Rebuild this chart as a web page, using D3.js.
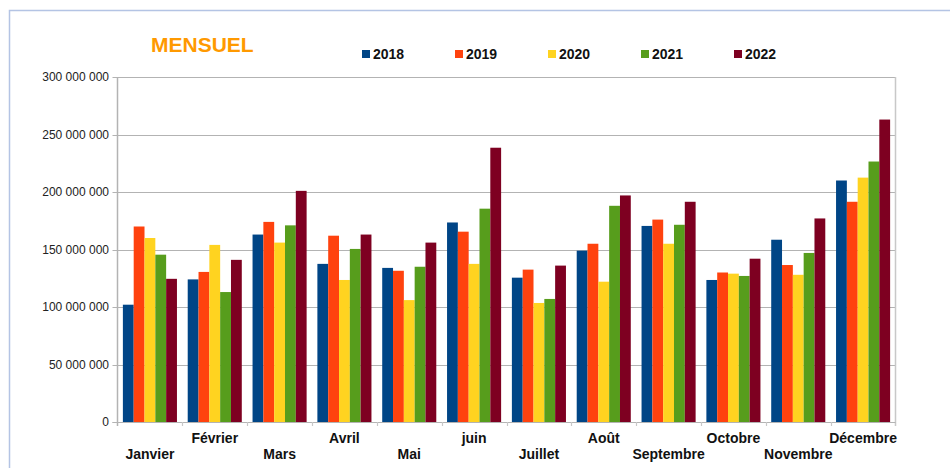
<!DOCTYPE html>
<html>
<head>
<meta charset="utf-8">
<script src="https://cdn.jsdelivr.net/npm/d3@7"></script>
<style>
  body { margin: 0; background: #fff; }
  svg { display: block; font-family: "Liberation Sans", Arial, sans-serif; }
</style>
</head>
<body>
<div class="chart"></div>
<script>
// chart data
var months = ["Janvier", "Février", "Mars", "Avril", "Mai", "juin",
  "Juillet", "Août", "Septembre", "Octobre", "Novembre", "Décembre"];
var years = ["2018", "2019", "2020", "2021", "2022"];
var colors = ["#004586", "#ff420e", "#ffd320", "#579d1c", "#7e0021"];
var yTicks = [0, 50000000, 100000000, 150000000, 200000000, 250000000, 300000000];

// values in millions
var v2018 = [102, 124, 163, 137.5, 134, 173.5, 125.5, 149, 170.5, 123.5, 158.5, 210];
var v2019 = [170, 130.5, 174, 162, 131.5, 165.5, 132.5, 155, 176, 130, 136.5, 191.5];
var v2020 = [160, 154, 156, 123.5, 106, 137.5, 103.5, 122, 155, 129, 128, 212.5];
var v2021 = [145.5, 113, 171, 150.5, 135, 185.5, 107, 188, 171.5, 127, 147, 226.5];
var v2022 = [124.5, 141, 201, 163, 156, 238.5, 136, 197, 191.5, 142, 177, 263];
var series = [v2018, v2019, v2020, v2021, v2022];

var svgWidth = 950;
var svgHeight = 468;

var plot = { left: 117.5, right: 895.5, top: 77, bottom: 422 };

var svg = d3.select(".chart")
  .append("svg")
  .attr("width", svgWidth)
  .attr("height", svgHeight);

// outer frame (light blue, only top and left are visible)
svg.append("path")
  .attr("d", "M9.5,468 V10.5 H950")
  .attr("fill", "none")
  .attr("stroke", "#b4c4e4")
  .attr("stroke-width", 1.5);

// scales
var x0 = d3.scaleBand()
  .domain(months)
  .range([plot.left, plot.right])
  .padding(0);

var bw = x0.bandwidth();
var gap = bw * 0.083;
var x1 = d3.scaleBand()
  .domain(years)
  .range([gap, bw - gap])
  .padding(0);

var y = d3.scaleLinear()
  .domain([0, 300000000])
  .range([plot.bottom, plot.top]);

// gridlines
svg.append("g")
  .selectAll("line")
  .data(yTicks)
  .enter()
  .append("line")
  .attr("x1", plot.left - 5)
  .attr("x2", plot.right)
  .attr("y1", d => Math.round(y(d)) + 0.5)
  .attr("y2", d => Math.round(y(d)) + 0.5)
  .attr("stroke", "#b3b3b3")
  .attr("stroke-width", 1.2);

// y tick labels
svg.append("g")
  .selectAll("text")
  .data(yTicks)
  .enter()
  .append("text")
  .attr("x", 109)
  .attr("y", d => y(d) + 4)
  .attr("text-anchor", "end")
  .attr("font-size", 12)
  .attr("fill", "#222")
  .text(d => d3.format(",")(d).replace(/,/g, " "));

// bars
var groups = svg.append("g")
  .selectAll("g")
  .data(months)
  .enter()
  .append("g")
  .attr("transform", d => `translate(${x0(d)},0)`);

groups.selectAll("rect")
  .data((m, i) => years.map((yr, j) => ({ year: yr, idx: j, value: series[j][i] * 1000000 })))
  .enter()
  .append("rect")
  .attr("x", d => x1(d.year))
  .attr("width", x1.bandwidth())
  .attr("y", d => y(d.value))
  .attr("height", d => y(0) - y(d.value))
  .attr("fill", d => colors[d.idx]);

// axes lines
svg.append("line")
  .attr("x1", plot.left).attr("x2", plot.left)
  .attr("y1", plot.top).attr("y2", plot.bottom + 4)
  .attr("stroke", "#b3b3b3").attr("stroke-width", 1.5);
svg.append("line")
  .attr("x1", plot.right).attr("x2", plot.right)
  .attr("y1", plot.top).attr("y2", plot.bottom + 4)
  .attr("stroke", "#c8c8c8").attr("stroke-width", 1.5);
svg.append("line")
  .attr("x1", plot.left - 5).attr("x2", plot.right)
  .attr("y1", plot.bottom + 0.5).attr("y2", plot.bottom + 0.5)
  .attr("stroke", "#b3b3b3").attr("stroke-width", 1.2);

// x tick marks at category boundaries
svg.append("g")
  .selectAll("line")
  .data(months.slice(1))
  .enter()
  .append("line")
  .attr("x1", d => Math.round(x0(d)) + 0.5)
  .attr("x2", d => Math.round(x0(d)) + 0.5)
  .attr("y1", plot.bottom)
  .attr("y2", plot.bottom + 4)
  .attr("stroke", "#c8c8c8")
  .attr("stroke-width", 1.2);

// x labels, staggered on two rows
svg.append("g")
  .selectAll("text")
  .data(months)
  .enter()
  .append("text")
  .attr("x", d => x0(d) + bw / 2)
  .attr("y", (d, i) => i % 2 === 0 ? 459 : 443)
  .attr("text-anchor", "middle")
  .attr("font-size", 14)
  .attr("font-weight", "bold")
  .attr("fill", "#111")
  .text(d => d);

// title
svg.append("text")
  .attr("x", 151)
  .attr("y", 51.5)
  .attr("font-size", 21)
  .attr("font-weight", "bold")
  .attr("fill", "#ff9900")
  .text("MENSUEL");

// legend
var legend = svg.append("g")
  .selectAll("g")
  .data(years)
  .enter()
  .append("g")
  .attr("transform", (d, i) => `translate(${362 + i * 93},50)`);

legend.append("rect")
  .attr("width", 8)
  .attr("height", 8)
  .attr("fill", (d, i) => colors[i]);

legend.append("text")
  .attr("x", 11)
  .attr("y", 8.5)
  .attr("font-size", 14)
  .attr("font-weight", "bold")
  .attr("fill", "#111")
  .text(d => d);
</script>
</body>
</html>
